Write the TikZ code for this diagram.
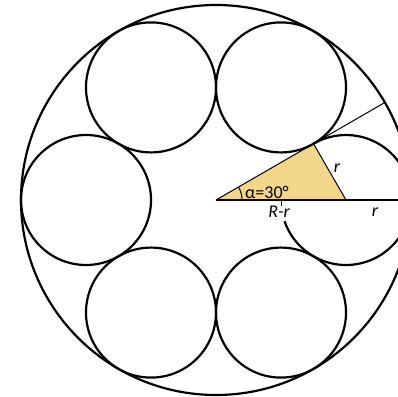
\documentclass[tikz,border=0pt]{standalone}
\usepackage{fontspec}
\setmainfont{Carlito}
\definecolor{gold}{HTML}{F2D68A}
\begin{document}
\begin{tikzpicture}[x=1pt,y=1pt,
  thick line/.style={line width=2.2pt},
  thin line/.style={line width=1pt},
  ring/.style={circle,draw,line width=2.2pt,minimum size=130pt,inner sep=0pt},
  lbl/.style={font=\fontsize{18}{20}\selectfont,inner sep=0pt}]
\useasboundingbox (-216,-196) rectangle (182,200);
\fill[white] (-216,-196) rectangle (182,200);
\coordinate (O) at (0,0);
\coordinate (C0) at (130,0);
\coordinate (A) at (30:112.58);
\coordinate (E) at (30:195);
\coordinate (H) at (195,0);
\coordinate (T) at (65,-6);
\coordinate (M) at (65,0);
% triangle
\fill[gold] (O) -- (A) -- (C0) -- cycle;
\draw[thin line] (O) -- (A) -- (C0);
\draw[thin line] (A) -- (E);
\draw[line width=1.4pt] (O) -- (H);
\draw[thin line] (M) -- (T);
\draw[thin line] (26,0) arc[start angle=0,end angle=30,radius=26];
% big circle
\node[circle,draw,line width=2.2pt,minimum size=390pt,inner sep=0pt] (big) at (O) {};
% small circles
\foreach \a in {60,120,180,240,300}{
  \node[ring] (c\a) at (\a:130) {};
}
\draw[thick line] ([shift={(C0)}]-161:65) arc[start angle=-161,end angle=120,radius=65];
% labels
\node[lbl] (alpha) at (51,8) {α=30°};
\node[lbl] (Rr) at (63,-11.5) {\itshape R-r};
\node[lbl] (r1) at (159,-12) {\itshape r};
\node[lbl] (r2) at (121,32) {\itshape r};
\end{tikzpicture}
\end{document}
